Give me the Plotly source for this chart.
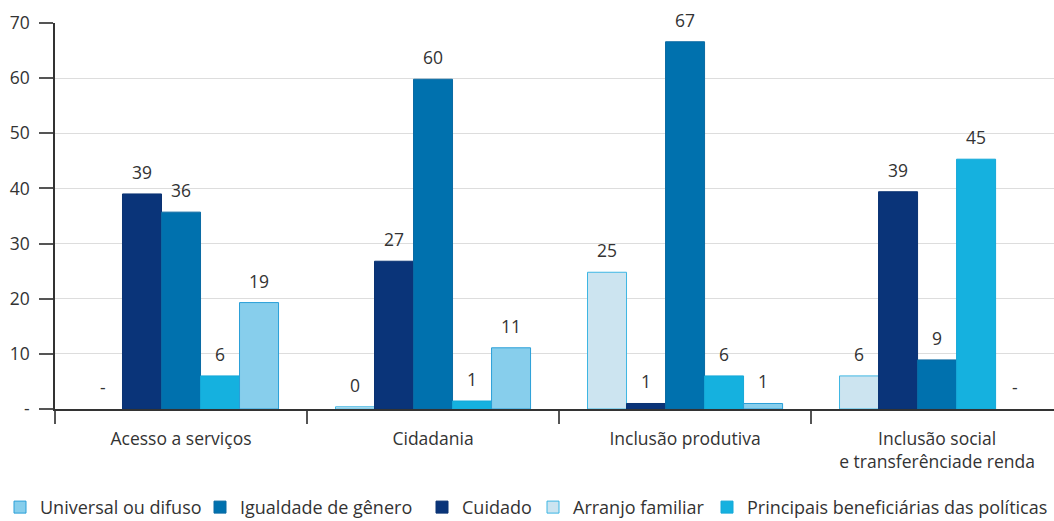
import plotly.graph_objects as go

categories = ["Acesso a serviços", "Cidadania", "Inclusão produtiva",
              "Inclusão social<br>e transferênciade renda"]

# bar order within each group (left to right)
series_names = ["Arranjo familiar", "Cuidado", "Igualdade de gênero",
                "Principais beneficiárias das políticas", "Universal ou difuso"]
arranjo = [None, 0.4, 24.8, 6.0]
cuidado = [39.0, 26.8, 1.0, 39.4]
igualdade = [35.7, 59.8, 66.6, 8.9]
principais = [6.0, 1.45, 6.0, 45.3]
universal = [19.3, 11.1, 1.0, None]
series_values = [arranjo, cuidado, igualdade, principais, universal]

# legend order (as shown in the reference)
legend_rank = [4, 3, 2, 5, 1]
legend_ids = ["legend", "legend", "legend", "legend2", "legend"]
fill_colors = ["#CCE4F0", "#0A3479", "#0071AE", "#15B1DF", "#87CEEC"]
line_colors = ["#3DB6E3", "#0A3272", "#0A6AA3", "#15A8D8", "#2A9FD8"]
legend_widths = [129, 66, 177, 300, 155]

y_ticks = [0, 10, 20, 30, 40, 50, 60, 70]
y_ticktext = ["-", "10", "20", "30", "40", "50", "60", "70"]

FONT = "Open Sans"
TXT = "#333333"
W, H = 1054, 521
ML, MR, MT, MB = 55, 0, 23, 112
BARGAP = 0.226
X_RANGE = [-0.5, 3.464]

fig = go.Figure()
for name, vals, rank, lg, fc, lc, lw in zip(series_names, series_values, legend_rank,
                                            legend_ids, fill_colors, line_colors,
                                            legend_widths):
    fig.add_trace(go.Bar(
        name=name, x=categories, y=vals, legendrank=rank, legendwidth=lw,
        legend=lg,
        marker=dict(color=fc, line=dict(color=lc, width=1)),
    ))

# value labels above bars ("-" where no value)
plot_w = W - ML - MR
px_per_cat = plot_w / (X_RANGE[1] - X_RANGE[0])
bar_w = (1 - BARGAP) * px_per_cat / len(series_names)
n = len(series_names)
for i, vals in enumerate(series_values):
    for cat, v in zip(categories, vals):
        fig.add_annotation(
            x=cat, y=(v if v is not None else 0), xref="x", yref="y",
            text=(str(int(round(v))) if v is not None else "-"),
            showarrow=False, yanchor="middle",
            xshift=(i - (n - 1) / 2) * bar_w, yshift=22,
            font=dict(family=FONT, size=17.5, color=TXT),
        )

legend_common = dict(orientation="h", xanchor="left", y=-0.207, yanchor="top",
                     font=dict(family=FONT, size=18, color=TXT),
                     itemwidth=30, traceorder="normal", tracegroupgap=0,
                     bgcolor="rgba(0,0,0,0)")

fig.update_layout(
    width=W, height=H,
    margin=dict(l=ML, r=MR, t=MT, b=MB, pad=0, autoexpand=False),
    paper_bgcolor="white", plot_bgcolor="white",
    barmode="group", bargap=BARGAP, bargroupgap=0,
    font=dict(family=FONT, size=17.5, color=TXT),
    showlegend=True,
    legend=dict(x=-ML / plot_w, **legend_common),
    legend2=dict(x=(707 - ML) / plot_w, **legend_common),
    xaxis=dict(
        type="category", range=X_RANGE, tickson="boundaries",
        ticks="outside", ticklen=13, tickcolor="#555555", tickwidth=1.5,
        ticklabelstandoff=13,
        showline=True, linecolor="#333333", linewidth=1.5,
        showgrid=False, tickfont=dict(family=FONT, size=17.5, color=TXT),
    ),
    yaxis=dict(
        range=[0, 70], tickvals=y_ticks, ticktext=y_ticktext,
        ticks="outside", ticklen=14, tickcolor="#555555", tickwidth=1.5,
        ticklabelstandoff=6,
        showline=True, linecolor="#333333", linewidth=1.5,
        showgrid=True, gridcolor="#DDDDDD", gridwidth=1,
        zeroline=False, tickfont=dict(family=FONT, size=17.5, color=TXT),
    ),
)

fig.write_html(
    "out.html",
    config={"displayModeBar": False},
    post_script="document.body.style.margin='0';document.body.style.overflow='hidden';",
)
